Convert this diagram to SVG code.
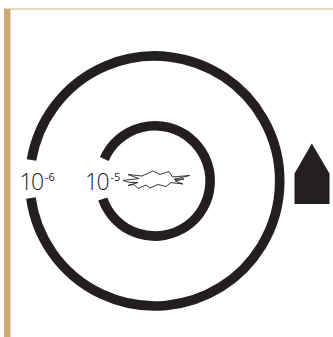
<svg xmlns="http://www.w3.org/2000/svg" width="333" height="337" viewBox="0 0 333 337">
<style>
.ring{fill:none;stroke:#231f20;stroke-width:9.6}
.lab{font-family:"Open Sans","Noto Sans",sans-serif;fill:#231f20;font-size:23px;font-weight:300;letter-spacing:-1.6px}
.sup{font-size:11px;letter-spacing:0;font-weight:400}
</style>
<rect width="333" height="337" fill="#fff"/>
<rect x="4" y="8.2" width="329" height="1.6" fill="#e2d0b4"/>
<rect x="4" y="9" width="6.4" height="328" fill="#cca976"/>
<g id="outer-ring"><path class="ring" d="M31.5 160 A125 125 0 1 1 30.9 198"/></g>
<g id="inner-ring"><path class="ring" d="M104.3 159 A55.2 55.2 0 1 1 102.8 199"/></g>
<g id="label-outer"><text class="lab" x="19.5" y="190">10<tspan class="sup" x="45" y="180.5">-6</tspan></text></g>
<g id="label-inner"><text class="lab" x="85" y="190">10<tspan class="sup" x="110.5" y="180.5">-5</tspan></text></g>
<g id="burst"><polygon points="123,180.4 139,178.6 128,174.5 142,176 153,171 160,174.5 169,171.5 172.5,177 189.5,175.5 174,179.4 184,179 175,181 183,184 171,182.6 166,186.5 158,184.5 150,188 146,185 138,188.5 134,184.5 128,185.5 138,182.5 128,182.2" fill="#fff" stroke="#231f20" stroke-width="0.9"/></g>
<g id="marker"><polygon points="311.8,143.5 329.5,173.5 329.5,204 294.5,204 294.5,173.5" fill="#231f20"/></g>
</svg>
